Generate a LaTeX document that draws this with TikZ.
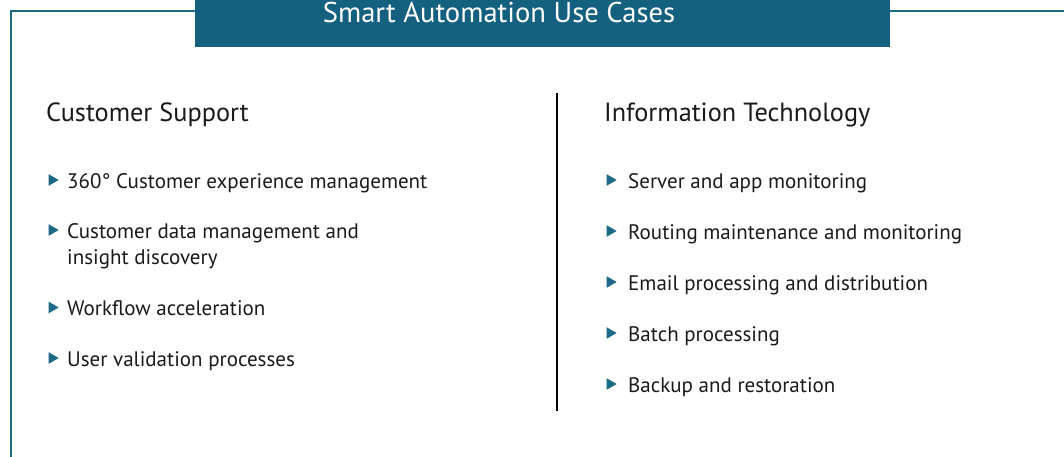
\documentclass[tikz,border=0pt]{standalone}
\usepackage{fontspec}
\setmainfont{PT Sans}
\usetikzlibrary{shapes.geometric}
\definecolor{teal}{HTML}{13607F}
\definecolor{frameblue}{HTML}{1D6A88}
\definecolor{txt}{HTML}{1A1A1A}
\begin{document}
\begin{tikzpicture}[x=1pt,y=-1pt,
  frameline/.style={draw=frameblue,line width=2.4pt},
  titlebox/.style={fill=teal,draw=none},
  heading/.style={anchor=base west,inner sep=0pt,text=txt,font=\fontsize{26.3}{30}\selectfont},
  item/.style={anchor=base west,inner sep=0pt,text=txt,font=\fontsize{21}{26}\selectfont},
  bullet/.style={isosceles triangle,isosceles triangle apex angle=60,fill=frameblue,inner sep=0pt,minimum height=10pt,minimum width=10.5pt,draw=none}]
\useasboundingbox (0,0) rectangle (1064,457);
\fill[white] (0,0) rectangle (1064,457);
% frame
\coordinate (fbl) at (11,458);
\coordinate (ftl) at (11,11);
\coordinate (ft1) at (195,11);
\coordinate (ft2) at (890,11);
\coordinate (ftr) at (1065,11);
\draw[frameline] (fbl) -- (ftl) -- (ft1);
\draw[frameline] (ft2) -- (ftr);
% title
\node[titlebox,minimum width=695pt,minimum height=47pt,anchor=north west,inner sep=0pt] (tbox) at (195,0) {};
\node[anchor=base,inner sep=0pt,text=white,font=\fontsize{28.6}{32}\selectfont] (title) at (499,22.5) {Smart Automation Use Cases};
% divider
\coordinate (d1) at (557,93);
\coordinate (d2) at (557,411);
\draw[line width=2.4pt,black] (d1) -- (d2);
% left column
\node[heading] (h1) at (46,121.5) {Customer Support};
\node[bullet] (lb1) at (52,180) {};
\node[item] (l1) at (67,188) {360° Customer experience management};
\node[bullet] (lb2) at (52,230) {};
\node[item] (l2) at (67,238) {\begin{tabular}[t]{@{}l@{}}Customer data management and\\insight discovery\end{tabular}};
\node[bullet] (lb3) at (52,307.5) {};
\node[item] (l3) at (67,315) {Workflow acceleration};
\node[bullet] (lb4) at (52,358) {};
\node[item] (l4) at (67,366) {User validation processes};
% right column
\node[heading] (h2) at (604,121.5) {Information Technology};
\node[bullet] (rb1) at (610,180) {};
\node[item] (r1) at (628,188) {Server and app monitoring};
\node[bullet] (rb2) at (610,231) {};
\node[item] (r2) at (628,239) {Routing maintenance and monitoring};
\node[bullet] (rb3) at (610,282) {};
\node[item] (r3) at (628,290) {Email processing and distribution};
\node[bullet] (rb4) at (610,333) {};
\node[item] (r4) at (628,341) {Batch processing};
\node[bullet] (rb5) at (610,384) {};
\node[item] (r5) at (628,392) {Backup and restoration};
\end{tikzpicture}
\end{document}
